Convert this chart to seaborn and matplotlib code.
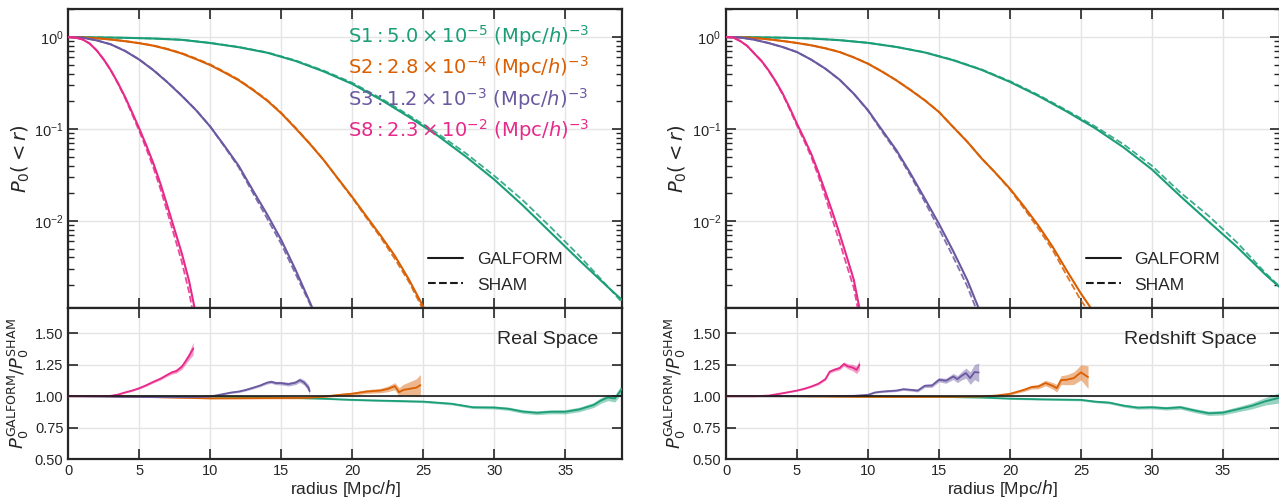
import numpy as np
import pandas as pd
import matplotlib
matplotlib.use("Agg")
import matplotlib.pyplot as plt
import seaborn as sns
from matplotlib.ticker import LogLocator, NullFormatter, FormatStrFormatter, FixedLocator

# ---------------- data ----------------
sample_names = ["S1", "S2", "S3", "S8"]
sample_labels = [
    r"$\mathrm{S1: 5.0\times 10^{-5}\ (Mpc/}h\mathrm{)^{-3}}$",
    r"$\mathrm{S2: 2.8\times 10^{-4}\ (Mpc/}h\mathrm{)^{-3}}$",
    r"$\mathrm{S3: 1.2\times 10^{-3}\ (Mpc/}h\mathrm{)^{-3}}$",
    r"$\mathrm{S8: 2.3\times 10^{-2}\ (Mpc/}h\mathrm{)^{-3}}$",
]
panel_titles = ["Real Space", "Redshift Space"]

# --- Real space: GALFORM void probability P0(<r)
r_s1_real = [0, 2, 4, 6, 8, 10, 12, 14, 16, 18, 20, 22, 24, 26, 28, 30, 32, 34, 36, 38, 39]
p_s1_real = [1.0, 0.993, 0.982, 0.964, 0.933, 0.861, 0.776, 0.676, 0.550, 0.422, 0.309, 0.209,
             0.135, 0.0851, 0.0501, 0.0282, 0.0148, 0.00741, 0.00372, 0.00191, 0.00138]
r_s2_real = [0, 1, 2, 3, 4, 5, 6, 7, 8, 9, 10, 11, 12, 13, 14, 15, 16, 17, 18, 19, 20, 21, 22, 23, 24, 25.2]
p_s2_real = [1.0, 0.991, 0.970, 0.940, 0.902, 0.857, 0.805, 0.736, 0.661, 0.575, 0.495, 0.412, 0.339,
             0.266, 0.204, 0.148, 0.102, 0.0692, 0.0457, 0.0288, 0.0182, 0.0112, 0.00692, 0.00417,
             0.00229, 0.00102]
r_s3_real = [0, 1, 2, 3, 4, 5, 6, 7, 8, 9, 10, 11, 12, 13, 14, 15, 16, 17, 17.2]
p_s3_real = [1.0, 0.984, 0.920, 0.832, 0.705, 0.568, 0.435, 0.320, 0.229, 0.160, 0.106, 0.0655,
             0.0398, 0.0215, 0.0118, 0.0062, 0.00295, 0.00132, 0.00112]
r_s8_real = [0, 0.5, 1, 1.5, 2, 2.5, 3, 3.5, 4, 4.5, 5, 5.5, 6, 6.5, 7, 7.5, 8, 8.5, 8.9]
p_s8_real = [1.0, 0.986, 0.944, 0.851, 0.716, 0.569, 0.434, 0.316, 0.223, 0.151, 0.101, 0.066,
             0.042, 0.0251, 0.0142, 0.0079, 0.0044, 0.00224, 0.00112]

# --- Redshift space: GALFORM void probability P0(<r)
r_s1_red = [0, 2, 4, 6, 8, 10, 12, 14, 16, 18, 20, 22, 24, 26, 28, 30, 32, 34, 36, 38, 39]
p_s1_red = [1.0, 0.995, 0.985, 0.965, 0.925, 0.865, 0.780, 0.680, 0.560, 0.440, 0.325, 0.229,
            0.155, 0.102, 0.0631, 0.0363, 0.0186, 0.0098, 0.0052, 0.0026, 0.0019]
r_s2_red = [0, 1, 2, 3, 4, 5, 6, 7, 8, 9, 10, 11, 12, 13, 14, 15, 16, 17, 18, 19, 20, 21, 22, 23, 24, 25, 25.8]
p_s2_red = [1.0, 0.997, 0.975, 0.945, 0.906, 0.862, 0.813, 0.754, 0.687, 0.600, 0.513, 0.420, 0.338,
            0.265, 0.205, 0.153, 0.105, 0.0724, 0.0479, 0.0331, 0.0224, 0.0143, 0.0089, 0.00525,
            0.00288, 0.00162, 0.00107]
r_s3_red = [0, 1, 2, 3, 4, 5, 6, 7, 8, 9, 10, 11, 12, 13, 14, 15, 16, 17, 17.8]
p_s3_red = [1.0, 0.990, 0.935, 0.861, 0.778, 0.687, 0.568, 0.453, 0.344, 0.242, 0.160, 0.0968,
            0.0589, 0.0327, 0.0175, 0.0093, 0.0047, 0.00226, 0.00112]
r_s8_red = [0, 0.5, 1, 1.5, 2, 2.5, 3, 3.5, 4, 4.5, 5, 5.5, 6, 6.5, 7, 7.5, 8, 8.5, 9, 9.4]
p_s8_red = [1.0, 0.990, 0.906, 0.800, 0.661, 0.550, 0.434, 0.330, 0.242, 0.168, 0.114, 0.079,
            0.0537, 0.034, 0.0207, 0.0124, 0.00724, 0.0041, 0.00229, 0.00112]

# --- Real space: ratio GALFORM / SHAM and its error
rr_s1_real = [0, 4, 8, 12, 15, 18, 20, 22, 25, 27, 28.5, 30, 31, 32, 33, 34, 35, 36, 37, 37.5, 38, 38.5, 39]
q_s1_real = [1.0, 1.0, 0.998, 0.995, 0.99, 0.98, 0.971, 0.965, 0.957, 0.94, 0.912, 0.91, 0.90, 0.878,
             0.868, 0.876, 0.876, 0.895, 0.93, 0.965, 0.99, 0.982, 1.06]
e_s1_real = [0, 0.001, 0.002, 0.003, 0.004, 0.005, 0.006, 0.007, 0.008, 0.009, 0.01, 0.012, 0.013,
             0.014, 0.015, 0.016, 0.017, 0.018, 0.02, 0.022, 0.025, 0.028, 0.035]
rr_s2_real = [0, 2, 4, 6, 8, 10, 12, 14, 16, 17, 18, 19, 20, 21, 22, 22.5, 23, 23.3, 23.6, 24, 24.5, 24.8]
q_s2_real = [1.0, 1.0, 0.998, 0.993, 0.988, 0.983, 0.984, 0.985, 0.986, 0.988, 0.996, 1.01, 1.02,
             1.037, 1.045, 1.058, 1.08, 1.032, 1.05, 1.058, 1.068, 1.088]
e_s2_real = [0, 0.001, 0.002, 0.003, 0.004, 0.005, 0.006, 0.006, 0.007, 0.008, 0.009, 0.01, 0.012,
             0.015, 0.018, 0.022, 0.028, 0.035, 0.045, 0.055, 0.07, 0.085]
rr_s3_real = [0, 2, 4, 6, 8, 9, 10, 10.5, 11, 11.5, 12, 12.5, 13, 13.5, 14, 14.3, 14.6, 15, 15.5, 16,
              16.3, 16.6, 16.9, 17.0]
q_s3_real = [1.0, 0.998, 0.995, 0.993, 0.993, 0.994, 0.998, 1.008, 1.019, 1.03, 1.037, 1.05, 1.067,
             1.085, 1.108, 1.115, 1.105, 1.104, 1.096, 1.108, 1.128, 1.11, 1.07, 1.04]
e_s3_real = [0, 0.002, 0.003, 0.004, 0.004, 0.005, 0.005, 0.006, 0.006, 0.007, 0.008, 0.008, 0.009,
             0.01, 0.011, 0.012, 0.013, 0.014, 0.015, 0.016, 0.018, 0.02, 0.025, 0.03]
rr_s8_real = [0, 1, 2, 3, 3.5, 4, 4.5, 5, 5.5, 6, 6.5, 7, 7.3, 7.6, 8, 8.3, 8.5, 8.8]
q_s8_real = [1.0, 1.0, 1.0, 1.003, 1.013, 1.03, 1.045, 1.064, 1.088, 1.115, 1.14, 1.172, 1.19, 1.2,
             1.235, 1.285, 1.32, 1.38]
e_s8_real = [0, 0.001, 0.002, 0.003, 0.004, 0.005, 0.006, 0.007, 0.008, 0.009, 0.01, 0.012, 0.014,
             0.016, 0.02, 0.025, 0.03, 0.05]

# --- Redshift space: ratio GALFORM / SHAM and its error
rr_s1_red = [0, 4, 8, 12, 16, 18, 20, 22, 25, 26, 27, 28, 29, 30, 31, 32, 33, 34, 35, 36, 37, 38, 38.9]
q_s1_red = [1.0, 1.0, 0.999, 0.997, 0.993, 0.99, 0.981, 0.976, 0.971, 0.957, 0.949, 0.925, 0.909,
            0.912, 0.904, 0.912, 0.886, 0.864, 0.869, 0.895, 0.922, 0.96, 0.985]
e_s1_red = [0, 0.001, 0.002, 0.003, 0.004, 0.005, 0.006, 0.007, 0.008, 0.009, 0.01, 0.011, 0.012,
            0.013, 0.014, 0.015, 0.016, 0.017, 0.018, 0.02, 0.024, 0.03, 0.04]
rr_s2_red = [0, 4, 8, 12, 16, 18, 19, 20, 20.5, 21, 21.5, 22, 22.5, 23, 23.3, 23.6, 24, 24.5, 25, 25.5]
q_s2_red = [1.0, 1.0, 0.996, 0.994, 0.995, 0.998, 1.005, 1.019, 1.035, 1.051, 1.072, 1.077, 1.105,
            1.083, 1.064, 1.128, 1.131, 1.144, 1.19, 1.152]
e_s2_red = [0, 0.001, 0.002, 0.003, 0.005, 0.006, 0.007, 0.009, 0.011, 0.013, 0.015, 0.018, 0.022,
            0.026, 0.03, 0.035, 0.04, 0.05, 0.06, 0.09]
rr_s3_red = [0, 3, 6, 9, 10, 10.5, 11, 12, 12.5, 13, 13.5, 14, 14.5, 15, 15.5, 16, 16.3, 16.6, 16.9,
             17.2, 17.5, 17.8]
q_s3_red = [1.0, 1.0, 1.0, 1.003, 1.011, 1.03, 1.037, 1.045, 1.056, 1.051, 1.045, 1.083, 1.085, 1.131,
            1.123, 1.157, 1.136, 1.163, 1.184, 1.144, 1.192, 1.189]
e_s3_red = [0, 0.002, 0.003, 0.004, 0.005, 0.006, 0.007, 0.008, 0.009, 0.01, 0.011, 0.013, 0.015,
            0.017, 0.02, 0.024, 0.028, 0.033, 0.04, 0.05, 0.06, 0.075]
rr_s8_red = [0, 1, 2, 3, 4, 5, 5.5, 6, 6.5, 7, 7.3, 7.6, 8, 8.3, 8.6, 8.9, 9.2, 9.4]
q_s8_red = [1.0, 1.0, 1.0, 1.005, 1.024, 1.045, 1.059, 1.077, 1.099, 1.136, 1.195, 1.21, 1.224, 1.256,
            1.237, 1.229, 1.21, 1.25]
e_s8_red = [0, 0.001, 0.002, 0.003, 0.004, 0.005, 0.006, 0.007, 0.008, 0.01, 0.012, 0.013, 0.015,
            0.017, 0.02, 0.025, 0.03, 0.04]

# ---------------- style ----------------
sns.set_theme(style="ticks")
plt.rcParams.update({
    "xtick.direction": "in", "ytick.direction": "in",
    "xtick.top": True, "ytick.right": True,
    "xtick.major.size": 7, "ytick.major.size": 7,
    "xtick.minor.size": 4, "ytick.minor.size": 4,
    "xtick.major.width": 1.2, "ytick.major.width": 1.2,
    "ytick.minor.width": 1.0,
    "axes.linewidth": 1.6, "axes.edgecolor": "#262626",
    "xtick.color": "#262626", "ytick.color": "#262626",
    "xtick.labelsize": 10.5, "ytick.labelsize": 10.5,
    "axes.labelsize": 13, "text.color": "#262626", "axes.labelcolor": "#262626",
    "mathtext.fontset": "dejavusans",
})
plt.rcParams["font.family"] = ["Liberation Sans", "DejaVu Sans"]

colors = sns.color_palette(["#1b9e77", "#d95f02", "#6a58a0", "#e7298a"])

panels = [
    dict(top=[(r_s1_real, p_s1_real), (r_s2_real, p_s2_real), (r_s3_real, p_s3_real), (r_s8_real, p_s8_real)],
         ratio=[(rr_s1_real, q_s1_real, e_s1_real), (rr_s2_real, q_s2_real, e_s2_real),
                (rr_s3_real, q_s3_real, e_s3_real), (rr_s8_real, q_s8_real, e_s8_real)],
         title=panel_titles[0], x0=68.3),
    dict(top=[(r_s1_red, p_s1_red), (r_s2_red, p_s2_red), (r_s3_red, p_s3_red), (r_s8_red, p_s8_red)],
         ratio=[(rr_s1_red, q_s1_red, e_s1_red), (rr_s2_red, q_s2_red, e_s2_red),
                (rr_s3_red, q_s3_red, e_s3_red), (rr_s8_red, q_s8_red, e_s8_red)],
         title=panel_titles[1], x0=726.0),
]

W, H = 1279, 498
fig = plt.figure(figsize=(W / 100, H / 100), dpi=100)
grid_kw = dict(color="#e4e4e4", lw=1.0, zorder=0)

for k, pan in enumerate(panels):
    x0 = pan["x0"]
    ax = fig.add_axes([x0 / W, (H - 308.3) / H, 553.7 / W, 298.9 / H])
    axr = fig.add_axes([x0 / W, (H - 459) / H, 553.7 / W, 150.7 / H], sharex=ax)

    line_handles = []
    for i, ((r, p), (rq, q, e)) in enumerate(zip(pan["top"], pan["ratio"])):
        r = np.asarray(r, float)
        p = np.asarray(p, float)
        sham = p / np.interp(r, rq, q)
        df = pd.DataFrame({"r": r, "galform": p, "sham": sham})
        sns.lineplot(data=df, x="r", y="galform", ax=ax, color=colors[i], lw=1.5, zorder=3)
        sns.lineplot(data=df, x="r", y="sham", ax=ax, color=colors[i], lw=1.3, ls="--", zorder=3,
                     alpha=0.85)
        line_handles.append(ax.lines[-2])

        dq = pd.DataFrame({"r": rq, "ratio": q})
        qa, ea = np.asarray(q), np.asarray(e)
        axr.fill_between(rq, qa - ea, qa + ea, color=colors[i], alpha=0.45, lw=0, zorder=2)
        sns.lineplot(data=dq, x="r", y="ratio", ax=axr, color=colors[i], lw=1.3, zorder=3)

    # top panel formatting
    ax.set_yscale("log")
    ax.set_ylim(1.12e-3, 2.0)
    ax.set_xlim(0, 39)
    ax.yaxis.set_major_locator(LogLocator(base=10, numticks=10))
    ax.yaxis.set_minor_locator(LogLocator(base=10, subs=np.arange(2, 10), numticks=20))
    ax.yaxis.set_minor_formatter(NullFormatter())
    ax.xaxis.set_major_locator(FixedLocator([0, 5, 10, 15, 20, 25, 30, 35]))
    ax.tick_params(labelbottom=False)
    ax.grid(True, which="major", **grid_kw)
    ax.set_xlabel("")
    ax.set_ylabel(r"$P_0(<r)$", fontsize=14)

    if k == 0:
        leg1 = ax.legend(line_handles, sample_labels, loc="upper right", bbox_to_anchor=(0.966, 1.0),
                         frameon=False, handlelength=0, handletextpad=0, labelcolor="linecolor",
                         fontsize=14, labelspacing=0.28, borderaxespad=0.3)
        for h in leg1.legend_handles:
            h.set_visible(False)
        ax.add_artist(leg1)
    h1, = ax.plot([], [], color="k", lw=1.5, ls="-")
    h2, = ax.plot([], [], color="k", lw=1.5, ls="--")
    ax.legend([h1, h2], ["GALFORM", "SHAM"], loc="lower left", bbox_to_anchor=(0.628, 0.012),
              frameon=False, fontsize=12.5, handlelength=2.0, handletextpad=0.8, labelspacing=0.6,
              borderaxespad=0.3)

    # ratio panel formatting
    axr.axhline(1.0, color="k", lw=1.2, zorder=4)
    axr.set_ylim(0.5, 1.7)
    axr.set_xlim(0, 39)
    axr.yaxis.set_major_locator(FixedLocator([0.5, 0.75, 1.0, 1.25, 1.5]))
    axr.yaxis.set_major_formatter(FormatStrFormatter("%.2f"))
    axr.xaxis.set_major_locator(FixedLocator([0, 5, 10, 15, 20, 25, 30, 35]))
    axr.grid(True, which="major", **grid_kw)
    axr.set_xlabel(r"radius [Mpc/$h$]", fontsize=12.5, labelpad=0)
    axr.set_ylabel(r"$P_0^{\rm GALFORM}/P_0^{\rm SHAM}$", fontsize=13)
    axr.text(0.958, 0.79, pan["title"], transform=axr.transAxes, ha="right", va="center",
             fontsize=14)

    for a in (ax, axr):
        for s in a.spines.values():
            s.set_visible(True)
            s.set_color("#262626")
    ax.yaxis.set_label_coords(-0.066, 0.5)
    axr.yaxis.set_label_coords(-0.068, 0.5)

fig.savefig("out.png", dpi=100)
